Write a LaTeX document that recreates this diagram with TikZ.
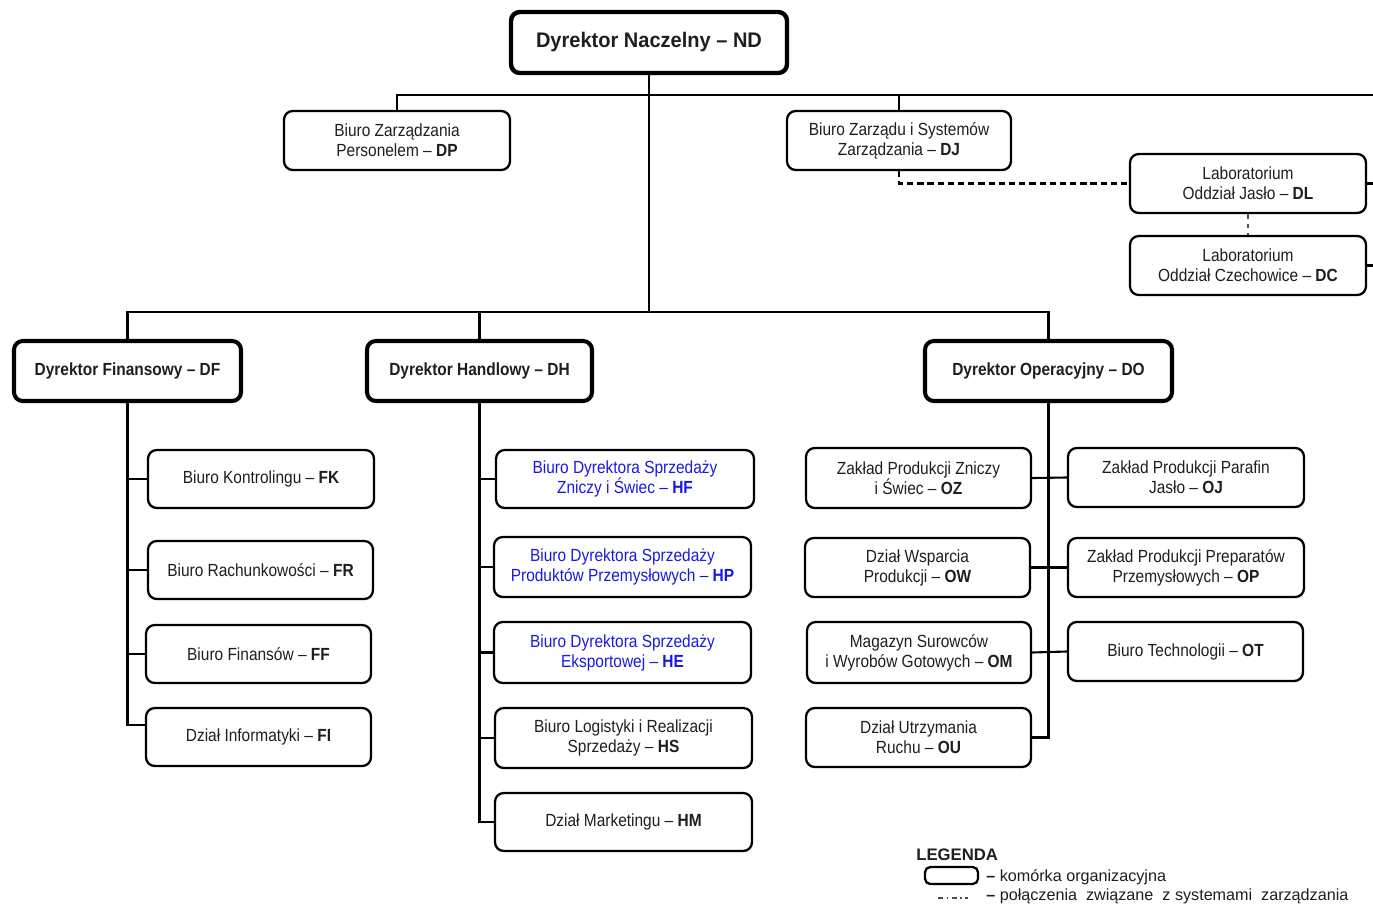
\documentclass[tikz,border=0pt]{standalone}
\usepackage{fontspec}
\setmainfont{Liberation Sans}[FakeStretch=0.88]
\newfontfamily\legfont{Liberation Sans}
\newfontfamily\titlefont{Liberation Sans}[FakeStretch=0.95]
\definecolor{txt}{RGB}{30,30,30}
\definecolor{bluetxt}{RGB}{25,25,225}
\tikzset{
  unit/.style 2 args={draw=black, rounded corners=5pt, line width=1.3pt,
    minimum width=#1*0.02cm, minimum height=#2*0.02cm, inner sep=1pt,
    align=center, text=txt, font=\fontsize{10}{11.4}\selectfont},
  blueunit/.style 2 args={unit={#1}{#2}, text=bluetxt},
  dirbox/.style 2 args={unit={#1}{#2}, line width=2.3pt,
    font=\fontsize{10}{12}\selectfont\bfseries},
  conn/.style={line width=1.2pt, draw=black},
  mgmtline/.style={line width=1.5pt, draw=black, dash pattern=on 3.6pt off 2.2pt},
  thinlink/.style={line width=0.7pt, draw=black!70, dash pattern=on 2.5pt off 3pt},
  legtext/.style={anchor=west, inner sep=0pt, text=txt, font=\legfont\fontsize{9.2}{11}\selectfont},
}
\begin{document}
\begin{tikzpicture}[x=0.02cm,y=-0.02cm]
\useasboundingbox (0,0) rectangle (1373,906);

% --- top level
\node[dirbox={276}{61}, line width=2.5pt, font=\titlefont\fontsize{12}{14}\selectfont\bfseries] (ND) at (649,42.5) {Dyrektor Naczelny – ND};
\node[unit={226}{59}] (DP) at (397,140.5) {Biuro Zarządzania\\Personelem – \textbf{DP}};
\node[unit={224}{59}] (DJ) at (899,140.5) {Biuro Zarządu i Systemów\\Zarządzania – \textbf{DJ}};
\node[unit={236}{59}] (DL) at (1248,183.5) {Laboratorium\\Oddział Jasło – \textbf{DL}};
\node[unit={236}{59}] (DC) at (1248,265.5) {Laboratorium\\Oddział Czechowice – \textbf{DC}};

% --- directors
\node[dirbox={227}{60}] (DF) at (127.5,371) {Dyrektor Finansowy – DF};
\node[dirbox={225}{60}] (DH) at (479.5,371) {Dyrektor Handlowy – DH};
\node[dirbox={247}{60}] (DO) at (1048.5,371) {Dyrektor Operacyjny – DO};

% --- finance
\node[unit={226}{58}] (FK) at (261,479) {Biuro Kontrolingu – \textbf{FK}};
\node[unit={225}{58}] (FR) at (260.5,570) {Biuro Rachunkowości – \textbf{FR}};
\node[unit={225}{58}] (FF) at (258.5,654) {Biuro Finansów – \textbf{FF}};
\node[unit={225}{58}] (FI) at (258.5,737) {Dział Informatyki – \textbf{FI}};

% --- sales
\node[blueunit={258}{58}] (HF) at (625,479) {Biuro Dyrektora Sprzedaży\\Zniczy i Świec – \textbf{HF}};
\node[blueunit={257}{60}] (HP) at (622.5,567) {Biuro Dyrektora Sprzedaży\\Produktów Przemysłowych – \textbf{HP}};
\node[blueunit={257}{61}] (HE) at (622.5,652.5) {Biuro Dyrektora Sprzedaży\\Eksportowej – \textbf{HE}};
\node[unit={257}{60}] (HS) at (623.5,738) {Biuro Logistyki i Realizacji\\Sprzedaży – \textbf{HS}};
\node[unit={257}{58}] (HM) at (623.5,822) {Dział Marketingu – \textbf{HM}};

% --- operations
\node[unit={225}{60}] (OZ) at (918.5,478) {Zakład Produkcji Zniczy\\i Świec – \textbf{OZ}};
\node[unit={225}{59}] (OW) at (917.5,567.5) {Dział Wsparcia\\Produkcji – \textbf{OW}};
\node[unit={224}{61}] (OM) at (919,652.5) {Magazyn Surowców\\i Wyrobów Gotowych – \textbf{OM}};
\node[unit={225}{59}] (OU) at (918.5,737.5) {Dział Utrzymania\\Ruchu – \textbf{OU}};
\node[unit={236}{59}] (OJ) at (1186,477.5) {Zakład Produkcji Parafin\\Jasło – \textbf{OJ}};
\node[unit={236}{59}] (OP) at (1186,567.5) {Zakład Produkcji Preparatów\\Przemysłowych – \textbf{OP}};
\node[unit={235}{59}] (OT) at (1185.5,651.5) {Biuro Technologii – \textbf{OT}};

% --- junction coordinates
\coordinate (tbR) at (1373,95);
\coordinate (db) at (649,312);

% --- connectors top
\draw[conn] (ND.south) -- (db);
\draw[conn] (DP.north) -- (DP.north |- tbR) -- (tbR);
\draw[conn] (DJ.north) -- (DJ.north |- tbR);
\draw[conn] (DL.east) -- (DL.east -| tbR);
\draw[conn] (DC.east) -- (DC.east -| tbR);
\draw[mgmtline] (DJ.south) |- (DL.west);
\draw[thinlink] (DL.south) -- (DC.north);

% --- directors bus
\draw[conn] (DF.north) |- (db);
\draw[conn] (DO.north) |- (db);
\draw[conn] (DH.north) -- (DH.north |- db);

% --- finance tree
\draw[conn] (DF.south) |- ([yshift=0.24cm]FI.west);
\draw[conn] (DF.south |- FK.west) -- (FK.west);
\draw[conn] (DF.south |- FR.west) -- (FR.west);
\draw[conn] (DF.south |- FF.west) -- (FF.west);

% --- sales tree
\draw[conn] (DH.south) |- (HM.west);
\draw[conn] (DH.south |- HF.west) -- (HF.west);
\draw[conn] (DH.south |- HP.west) -- (HP.west);
\draw[conn] (DH.south |- HE.west) -- (HE.west);
\draw[conn] (DH.south |- HS.west) -- (HS.west);

% --- operations tree
\draw[conn] (DO.south) |- (OU.east);
\draw[conn] (OZ.east) -- (OJ.west);
\draw[conn] (OW.east) -- (OP.west);
\draw[conn] (OM.east) -- (OT.west);

% --- legend
\node[legtext, font=\legfont\fontsize{9.5}{11}\selectfont\bfseries] (legtitle) at (916,855) {LEGENDA};
\node[draw=black, line width=1.3pt, rounded corners=3pt, minimum width=53*0.02cm, minimum height=17*0.02cm, inner sep=0pt] (legbox) at (951.5,875.5) {};
\node[legtext] (legt1) at (986,877) {\textbf{–} komórka organizacyjna};
\coordinate (legd1) at (938,898);
\coordinate (legd2) at (968,898);
\draw[line width=0.6pt, draw=black!70, dash pattern=on 3pt off 2pt on 0.8pt off 2pt] (legd1) -- (legd2);
\node[legtext] (legt2) at (986,896) {\textbf{–} połączenia\ \ związane\ \ z systemami\ \ zarządzania};
\end{tikzpicture}
\end{document}
